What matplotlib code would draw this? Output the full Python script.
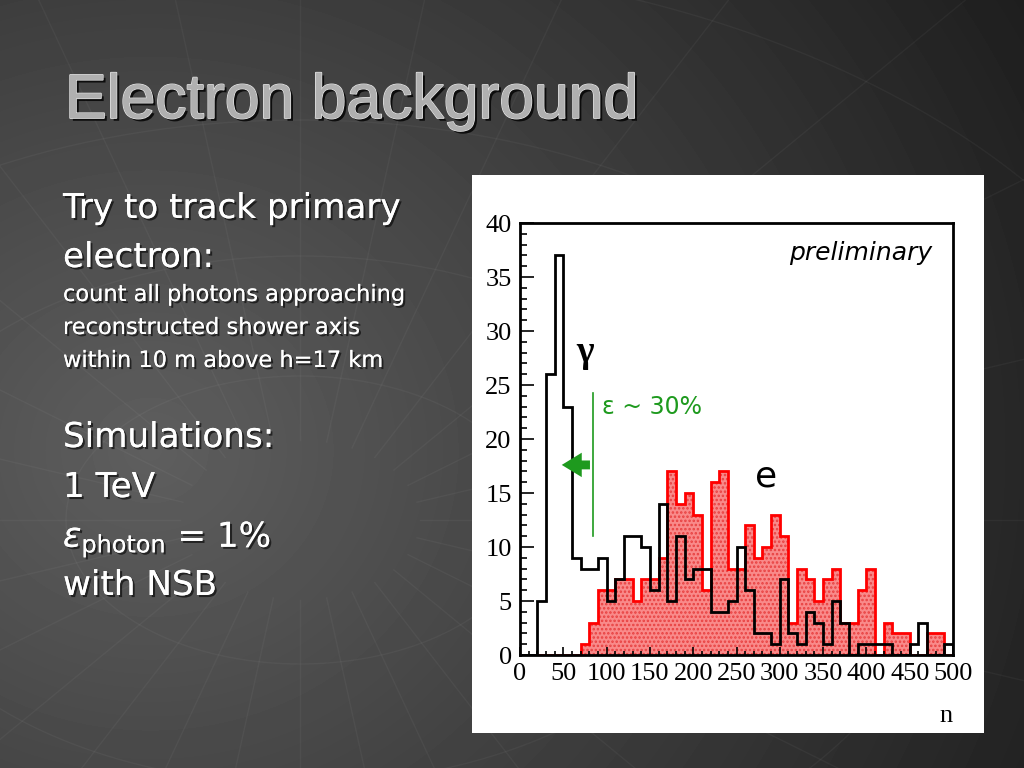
import numpy as np
import matplotlib.pyplot as plt
import matplotlib.patheffects as pe
from matplotlib.patches import Rectangle, FancyArrowPatch

plt.rcParams['mathtext.fontset'] = 'dejavusans'

# histogram data, bins of width 10 from 0 to 500
edges = np.arange(0, 510, 10)
gamma_counts = [0, 0, 5, 26, 37, 23, 9, 8, 8, 9,
                5, 7, 11, 11, 10, 6, 14, 5, 11, 7,
                8, 8, 4, 4, 5, 10, 6, 2, 2, 1,
                7, 2, 1, 4, 3, 1, 5, 3, 0, 1,
                1, 1, 1, 0, 0, 1, 3, 0, 0, 1]
electron_counts = [0, 0, 0, 0, 0, 0, 0, 1, 3, 6,
                   6, 7, 7, 5, 7, 7, 9, 17, 14, 15,
                   13, 6, 16, 17, 8, 8, 12, 9, 10, 13,
                   11, 3, 8, 7, 5, 7, 8, 3, 3, 6,
                   8, 0, 3, 2, 2, 0, 0, 2, 2, 0]
x_ticks = list(range(0, 501, 50))
y_ticks = list(range(0, 41, 5))

W, H = 1024, 768
fig = plt.figure(figsize=(W / 100, H / 100), dpi=100)

# dark slide background
bg = fig.add_axes([0, 0, 1, 1])
bg.set_axis_off()
yy, xx = np.mgrid[0:H, 0:W]
d = np.hypot(xx - 150, (yy - 450) * 1.1) / 1000.0
shade = np.clip(0.37 - 0.25 * d, 0.08, 0.4)
bg.imshow(shade, cmap='gray', vmin=0, vmax=1, extent=[0, W, H, 0], aspect='auto')
# faint web pattern
cx, cy = 300, 520
t = np.linspace(0, 2 * np.pi, 400)
for r in [180, 330, 500, 700, 920]:
    bg.plot(cx + r * 1.3 * np.cos(t), cy + r * 0.8 * np.sin(t), color='white', alpha=0.04, lw=1)
for a in np.linspace(0, 2 * np.pi, 28, endpoint=False):
    bg.plot([cx + 120 * np.cos(a), cx + 1400 * np.cos(a)],
            [cy + 80 * np.sin(a), cy + 1400 * np.sin(a)], color='white', alpha=0.04, lw=1)
bg.set_xlim(0, W)
bg.set_ylim(H, 0)

# title
fig.text(65 / W, 1 - 118 / H, 'Electron background', fontsize=45, family='Liberation Sans',
         color='#b0b0b0', va='baseline',
         path_effects=[pe.withSimplePatchShadow(offset=(2, -2), shadow_rgbFace='black', alpha=0.8),
                       pe.withStroke(linewidth=1.2, foreground='#e6e6e6'), pe.Normal()])

shadow = [pe.withSimplePatchShadow(offset=(1.5, -1.5), shadow_rgbFace='black', alpha=0.6), pe.Normal()]
lines = [("Try to track primary", 218, 24.6),
         ("electron:", 267, 24.6),
         ("count all photons approaching", 301, 16.2),
         ("reconstructed shower axis", 334, 16.2),
         ("within 10 m above h=17 km", 367, 16.2),
         ("Simulations:", 447, 24.6),
         ("1 TeV", 497, 24.6),
         (r"$\varepsilon_{\mathrm{photon}}$ = 1%", 547, 24.6),
         ("with NSB", 595, 24.6)]
for txt, yb, fs in lines:
    fig.text(63 / W, 1 - yb / H, txt, fontsize=fs, color='white', va='baseline',
             family='DejaVu Sans', path_effects=shadow)

# white panel behind the plot
fig.add_artist(Rectangle((472 / W, 1 - 733 / H), 512 / W, 558 / H, transform=fig.transFigure,
                         facecolor='white', edgecolor='none', zorder=1))

ax = fig.add_axes([520 / W, 1 - 655 / H, 433 / W, 432 / H], zorder=2)
ax.set_facecolor('white')

plt.rcParams['hatch.linewidth'] = 1.2
ax.stairs(electron_counts, edges, fill=True, facecolor='#f98a8a', edgecolor='#e84040',
          hatch='....', linewidth=0)
ax.stairs(electron_counts, edges, color='#ff0000', linewidth=2)
ax.stairs(gamma_counts, edges, color='black', linewidth=2)

ax.set_xlim(0, 500)
ax.set_ylim(0, 40)
ax.set_xticks(x_ticks)
ax.set_xticks(range(0, 501, 10), minor=True)
ax.set_yticks(y_ticks)
ax.set_yticks(range(0, 41, 1), minor=True)
ax.tick_params(which='both', direction='in', top=False, right=False, width=1.2)
ax.tick_params(which='major', axis='y', length=10)
ax.tick_params(which='minor', axis='y', length=5)
ax.tick_params(which='major', axis='x', length=6)
ax.tick_params(which='minor', axis='x', length=3)
ax.tick_params(labelsize=19, pad=6)
for lab in ax.get_xticklabels() + ax.get_yticklabels():
    lab.set_family('Liberation Serif')
for s in ax.spines.values():
    s.set_linewidth(2)

ax.text(1.0, -0.141, 'n', transform=ax.transAxes, ha='right', va='center',
        fontsize=19, family='Liberation Serif')
ax.text(0.951, 0.93, 'preliminary', transform=ax.transAxes, ha='right', va='center',
        fontsize=18, style='italic', family='DejaVu Sans')
ax.text(75, 28, 'γ', fontsize=27, family='Liberation Serif', weight='bold', ha='center', va='center')
ax.text(284, 16.5, 'e', fontsize=26, family='DejaVu Sans', ha='center', va='center')

green = '#1e9a1e'
ax.plot([84, 84], [11, 24.3], color=green, lw=1.2)
ax.add_patch(FancyArrowPatch((84, 17.6), (45, 17.6),
                             arrowstyle='simple,head_length=0.9,head_width=1.1,tail_width=0.4',
                             mutation_scale=16, color=green, lw=0))
ax.text(95, 23, 'ε ~ 30%', color=green, fontsize=17, family='DejaVu Sans', ha='left', va='center')

fig.savefig('out.png', dpi=100)
